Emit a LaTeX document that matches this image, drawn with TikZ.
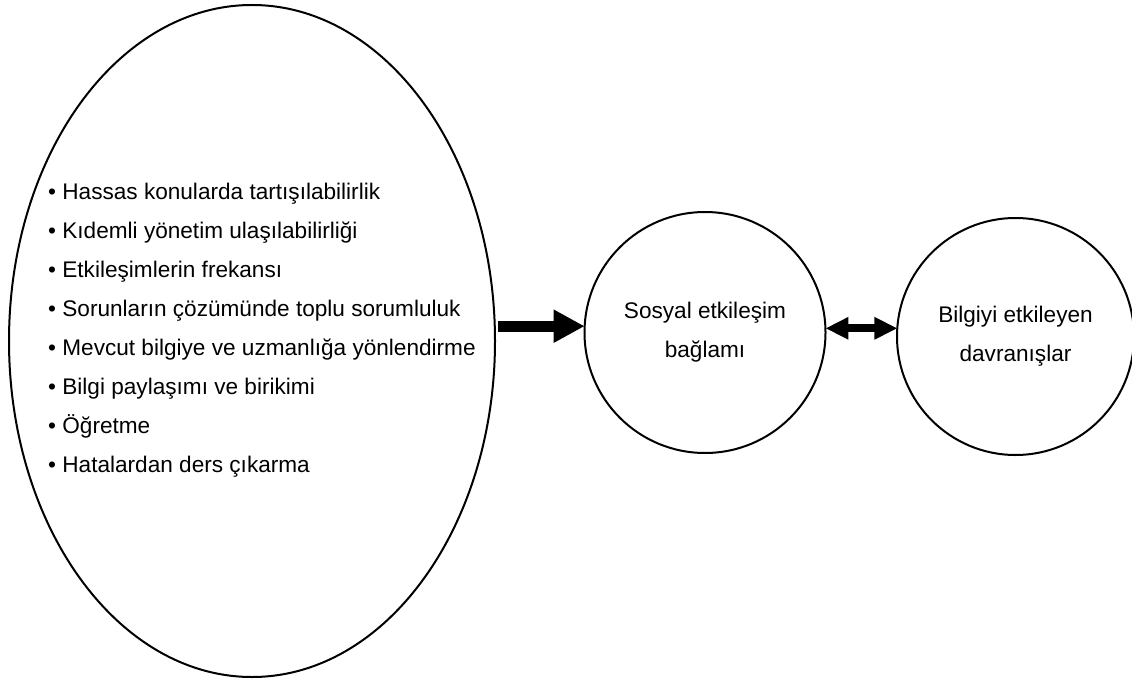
\documentclass[tikz,border=0pt]{standalone}
\usepackage{fontspec}
\setmainfont{Liberation Sans}
\usetikzlibrary{shapes.geometric,arrows.meta}
\begin{document}
\begin{tikzpicture}[x=1pt,y=-1pt,
  outline/.style={draw=black,line width=2pt,inner sep=0pt,outer sep=0pt},
  bigarrow/.style={line width=11pt,-{Triangle[length=31pt,width=31pt]}},
  dblarrow/.style={line width=8pt,{Triangle[length=23pt,width=21pt]}-{Triangle[length=23pt,width=21pt]}},
  bodytext/.style={font=\fontsize{22.6}{39}\selectfont}]
\useasboundingbox (0,0) rectangle (1132,679);
% left ellipse holding the list of factors
\node[outline,ellipse,minimum width=486pt,minimum height=672pt] (ell) at (252,341) {};
\node[bodytext,align=left,anchor=west,inner sep=0pt] (list) at (48,330) {%
  • Hassas konularda tartışılabilirlik\\
  • Kıdemli yönetim ulaşılabilirliği\\
  • Etkileşimlerin frekansı\\
  • Sorunların çözümünde toplu sorumluluk\\
  • Mevcut bilgiye ve uzmanlığa yönlendirme\\
  • Bilgi paylaşımı ve birikimi\\
  • Öğretme\\
  • Hatalardan ders çıkarma};
% the two circles
\node[outline,circle,minimum size=241pt,bodytext,align=center] (c1) at (705,332.5)
  {Sosyal etkileşim\\bağlamı};
\node[outline,circle,minimum size=237pt,bodytext,align=center] (c2) at (1015.5,336.5)
  {Bilgiyi etkileyen\\davranışlar};
% connectors
\draw[bigarrow] ([xshift=3pt]ell.east |- c1.177.6) -- (c1.177.6);
\draw[dblarrow] (c1.2.6) -- (c1.2.6 -| c2.175.4);
\end{tikzpicture}
\end{document}
